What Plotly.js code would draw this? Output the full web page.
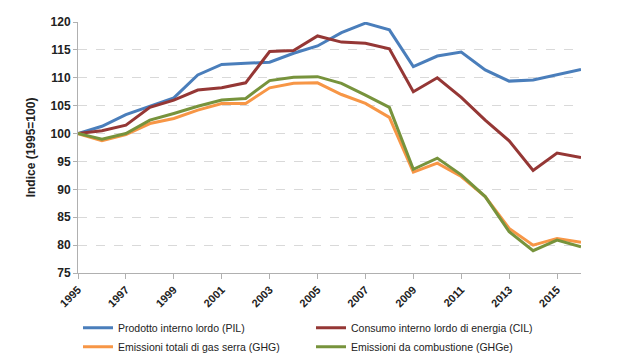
<!DOCTYPE html>
<html><head><meta charset="utf-8">
<script src="https://cdn.plot.ly/plotly-3.0.1.min.js"></script>
<style>html,body{margin:0;padding:0;background:#fff}#chart{width:622px;height:364px}</style>
</head><body><div id="chart"></div>
<script>
const years = [1995,1996,1997,1998,1999,2000,2001,2002,2003,2004,2005,2006,2007,2008,2009,2010,2011,2012,2013,2014,2015,2016];
const pil  = [100,101.3,103.4,104.9,106.4,110.5,112.4,112.6,112.8,114.4,115.7,118.1,119.8,118.6,112.0,113.9,114.6,111.4,109.4,109.6,110.6,111.5];
const cil  = [100,100.5,101.5,104.7,106.0,107.8,108.2,109.1,114.7,114.9,117.5,116.4,116.2,115.2,107.5,110.0,106.5,102.4,98.7,93.4,96.5,95.7];
const ghg  = [100,98.7,99.8,101.8,102.7,104.2,105.4,105.4,108.2,109.0,109.1,107.0,105.4,102.9,93.1,94.7,92.3,88.7,83.0,80.0,81.2,80.5];
const ghge = [100,99.0,100.0,102.4,103.6,104.9,106.0,106.3,109.5,110.1,110.2,109.0,106.9,104.7,93.6,95.6,92.6,88.7,82.4,79.0,80.9,79.7];
const names = ["Prodotto interno lordo (PIL)","Consumo interno lordo di energia (CIL)","Emissioni totali di gas serra (GHG)","Emissioni da combustione (GHGe)"];
const xTicks = [1995,1997,1999,2001,2003,2005,2007,2009,2011,2013,2015];
const yTicks = [75,80,85,90,95,100,105,110,115,120];

const colors = ["#4a7ebb","#953735","#f79646","#77933c"];
const series = [pil, cil, ghg, ghge];
const traces = series.map((s,i)=>({x:years,y:s,name:names[i],type:'scatter',mode:'lines',
  line:{color:colors[i],width:3}}));

const fam = '"Liberation Sans", Arial, sans-serif';
const layout = {
  width:622,height:364,
  margin:{l:78,r:41,t:22,b:91,autoexpand:false},
  paper_bgcolor:'#fff',plot_bgcolor:'#fff',
  showlegend:true,
  xaxis:{range:[1995,2016],tickvals:xTicks,ticktext:xTicks.map(String),tickangle:-45,
    showgrid:false,zeroline:false,showline:true,linecolor:'#b0b0b0',linewidth:1,
    ticks:'outside',ticklen:5,tickcolor:'#b0b0b0',
    tickfont:{family:fam,size:11,weight:'bold',color:'#222'}},
  yaxis:{range:[75,120],tickvals:yTicks,showgrid:true,gridcolor:'#d9d9d9',griddash:'dash',gridwidth:1,
    zeroline:false,showline:true,linecolor:'#b0b0b0',linewidth:1,
    ticks:'outside',ticklen:4,tickcolor:'#b0b0b0',
    tickfont:{family:fam,size:12,weight:'bold',color:'#222'},
    title:{text:'Indice (1995=100)',standoff:12,font:{family:fam,size:12,weight:'bold',color:'#222'}}},
  legend:{orientation:'h',x:0.0,xanchor:'left',y:-0.16,yanchor:'top',entrywidth:188,entrywidthmode:'pixels',
    font:{family:fam,size:10.5,color:'#222'},tracegroupgap:0,itemwidth:30},
};
Plotly.newPlot('chart',traces,layout,{displayModeBar:false,staticPlot:true});
</script></body></html>
